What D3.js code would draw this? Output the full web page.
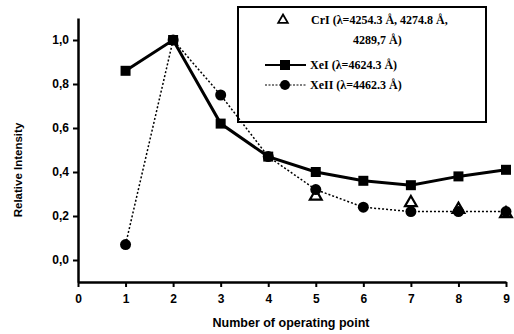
<!DOCTYPE html>
<html>
<head>
<meta charset="utf-8">
<script src="https://cdn.jsdelivr.net/npm/d3@7"></script>
<style>
  body { margin: 0; background: #fff; }
  svg { display: block; }
</style>
</head>
<body>
<div id="chart"></div>
<script>
// operating points
const points = [1, 2, 3, 4, 5, 6, 7, 8, 9];
// XeI line (4624.3 A)
const xeI = [0.86, 1.0, 0.62, 0.47, 0.40, 0.36, 0.34, 0.38, 0.41];
// XeII line (4462.3 A)
const xeII = [0.07, 1.0, 0.75, 0.47, 0.32, 0.24, 0.22, 0.22, 0.22];
// CrI triplet, only the visible markers
const crPoints = [5, 7, 8, 9];
const crI = [0.29, 0.26, 0.23, 0.21];

const xTicks = [0, 1, 2, 3, 4, 5, 6, 7, 8, 9];
const yTicks = [0, 0.2, 0.4, 0.6, 0.8, 1.0];

const width = 514, height = 334;
const margin = { top: 18, right: 8, bottom: 52, left: 78 };

const svg = d3.select("#chart").append("svg")
  .attr("width", width)
  .attr("height", height);

const x = d3.scaleLinear().domain([0, 9]).range([margin.left, width - margin.right]);
const y = d3.scaleLinear().domain([-0.1, 1.1]).range([height - margin.bottom, margin.top]);

const font = "Arial, 'Liberation Sans', sans-serif";
const serif = "'Liberation Serif', 'DejaVu Serif', serif";

// axes
const xAxis = d3.axisBottom(x).tickValues(xTicks).tickSize(5).tickSizeOuter(0)
  .tickFormat(d3.format("d"));
const yAxis = d3.axisLeft(y).tickValues(yTicks).tickSize(5).tickSizeOuter(0)
  .tickFormat(d => d.toFixed(1).replace(".", ","));

const gx = svg.append("g")
  .attr("transform", `translate(0,${y(-0.1)})`)
  .call(xAxis);
const gy = svg.append("g")
  .attr("transform", `translate(${x(0)},0)`)
  .call(yAxis);

[gx, gy].forEach(g => {
  g.select(".domain").attr("stroke", "#000").attr("stroke-width", 2.5);
  g.selectAll(".tick line").attr("stroke", "#000").attr("stroke-width", 2);
  g.selectAll(".tick text")
    .attr("fill", "#000")
    .style("font-family", font)
    .style("font-weight", "bold")
    .style("font-size", "12px");
});
gx.selectAll(".tick text").attr("dy", "1.1em");
gy.selectAll(".tick text").attr("x", -9);

// axis titles
svg.append("text")
  .attr("transform", `translate(22,${(y(1.1) + y(-0.1)) / 2 + 20}) rotate(-90)`)
  .attr("text-anchor", "middle")
  .style("font-family", font)
  .style("font-weight", "bold")
  .style("font-size", "11.5px")
  .text("Relative Intensity");

svg.append("text")
  .attr("x", 291)
  .attr("y", 327)
  .attr("text-anchor", "middle")
  .style("font-family", font)
  .style("font-weight", "bold")
  .style("font-size", "12.5px")
  .text("Number of operating point");

// legend box
const legend = svg.append("g");
legend.append("rect")
  .attr("x", 238).attr("y", 7)
  .attr("width", 248).attr("height", 115)
  .attr("fill", "#fff")
  .attr("stroke", "#000")
  .attr("stroke-width", 2);

// series
const line = d3.line().x(d => x(d[0])).y(d => y(d[1]));

const xeIData = points.map((p, i) => [p, xeI[i]]);
const xeIIData = points.map((p, i) => [p, xeII[i]]);
const crData = crPoints.map((p, i) => [p, crI[i]]);

svg.append("path")
  .datum(xeIIData)
  .attr("d", line)
  .attr("fill", "none")
  .attr("stroke", "#000")
  .attr("stroke-width", 1.5)
  .attr("stroke-dasharray", "2,2");

svg.append("path")
  .datum(xeIData)
  .attr("d", line)
  .attr("fill", "none")
  .attr("stroke", "#000")
  .attr("stroke-width", 3);

const tri = d3.symbol().type(d3.symbolTriangle).size(60);

svg.selectAll(".cr")
  .data(crData)
  .enter().append("path")
  .attr("class", "cr")
  .attr("transform", d => `translate(${x(d[0])},${y(d[1])})`)
  .attr("d", tri)
  .attr("fill", "#fff")
  .attr("stroke", "#000")
  .attr("stroke-width", 2.2);

svg.selectAll(".xe2")
  .data(xeIIData)
  .enter().append("circle")
  .attr("class", "xe2")
  .attr("cx", d => x(d[0]))
  .attr("cy", d => y(d[1]))
  .attr("r", 5.5)
  .attr("fill", "#000");

svg.selectAll(".xe1")
  .data(xeIData)
  .enter().append("rect")
  .attr("class", "xe1")
  .attr("x", d => x(d[0]) - 5)
  .attr("y", d => y(d[1]) - 5)
  .attr("width", 10)
  .attr("height", 10)
  .attr("fill", "#000");

// legend entries
const legFont = { "font-family": serif, "font-weight": "bold", "font-size": "12px" };
function legText(tx, ty, str) {
  const t = legend.append("text").attr("x", tx).attr("y", ty).text(str);
  Object.entries(legFont).forEach(([k, v]) => t.style(k, v));
}

legend.append("path")
  .attr("transform", "translate(283,20)")
  .attr("d", d3.symbol().type(d3.symbolTriangle).size(40))
  .attr("fill", "#fff")
  .attr("stroke", "#000")
  .attr("stroke-width", 1.8);
legText(311, 24, "CrI (λ=4254.3 Å, 4274.8 Å,");
legText(353, 44, "4289,7 Å)");

legend.append("line")
  .attr("x1", 265).attr("x2", 306).attr("y1", 65).attr("y2", 65)
  .attr("stroke", "#000").attr("stroke-width", 2);
legend.append("rect")
  .attr("x", 280).attr("y", 60).attr("width", 10).attr("height", 10)
  .attr("fill", "#000");
legText(310, 69, "XeI (λ=4624.3 Å)");

legend.append("line")
  .attr("x1", 265).attr("x2", 306).attr("y1", 85).attr("y2", 85)
  .attr("stroke", "#000").attr("stroke-width", 1.2)
  .attr("stroke-dasharray", "2,1.5");
legend.append("circle")
  .attr("cx", 285).attr("cy", 85).attr("r", 5)
  .attr("fill", "#000");
legText(310, 89, "XeII (λ=4462.3 Å)");
</script>
</body>
</html>
